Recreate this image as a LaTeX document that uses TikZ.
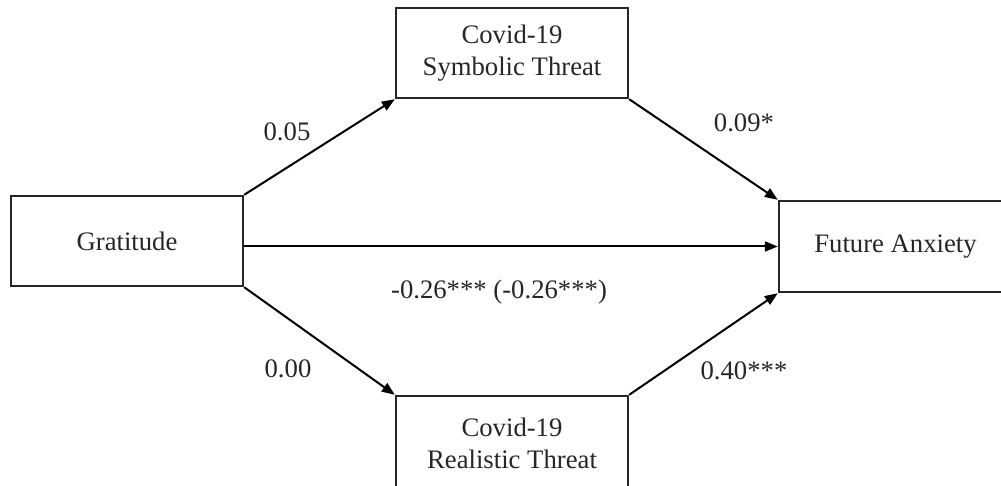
\documentclass[tikz,border=0pt]{standalone}
\usepackage{fontspec}
\setmainfont{Liberation Serif}
\usetikzlibrary{arrows.meta}
\begin{document}
\begin{tikzpicture}[x=1pt,y=1pt,
  box/.style={draw=black!85,line width=2.4pt,inner sep=0pt,align=center,
    font=\fontsize{26.7}{32}\selectfont,text=black!85},
  lbl/.style={inner sep=0pt,font=\fontsize{26.7}{32}\selectfont,text=black!85},
  arr/.style={draw=black,line width=2pt,-{Triangle[length=13pt,width=10pt]}}]
\useasboundingbox (0,0) rectangle (1001,485);
\clip (0,0) rectangle (1001,485);
\node[box,minimum width=232pt,minimum height=90pt] (G) at (127,244) {Gratitude};
\node[box,minimum width=232pt,minimum height=90pt] (S) at (512,432) {Covid-19\\Symbolic Threat};
\node[box,minimum width=232pt,minimum height=94pt] (R) at (512,42) {Covid-19\\Realistic Threat};
\node[box,minimum width=233pt,minimum height=91pt] (F) at (895.5,238.5) {Future Anxiety};
\draw[arr] (G.north east) -- (S.south west);
\draw[arr] (S.south east) -- (F.north west);
\draw[arr] (G.east |- F.west) -- (F.west);
\draw[arr] (G.south east) -- (R.north west);
\draw[arr] (R.north east) -- (F.south west);
\node[lbl] (l1) at (287,353) {0.05};
\node[lbl] (l2) at (744,362) {0.09*};
\node[lbl] (l3) at (288,116) {0.00};
\node[lbl] (l4) at (744,114) {0.40***};
\node[lbl] (l5) at (499,193) {-0.26*** (-0.26***)};
\end{tikzpicture}
\end{document}
